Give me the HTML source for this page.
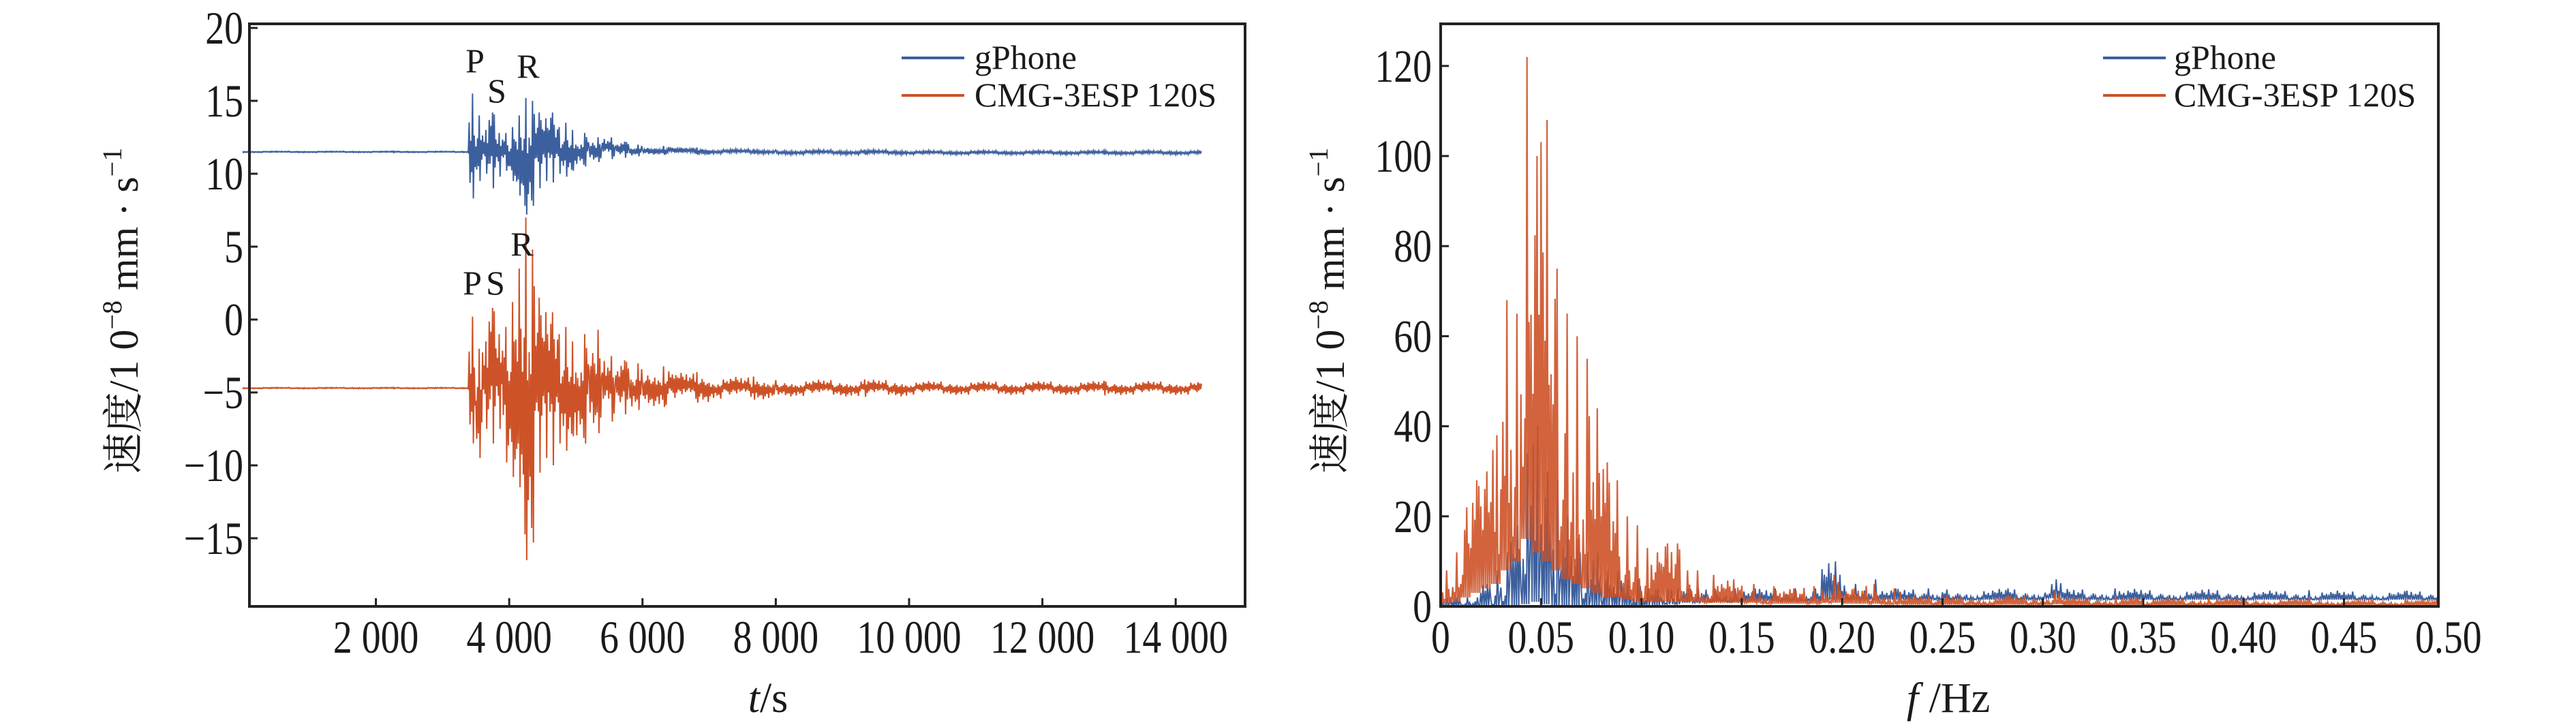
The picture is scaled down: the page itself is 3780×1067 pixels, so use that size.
<!DOCTYPE html>
<html><head><meta charset="utf-8"><style>
html,body{margin:0;padding:0;background:#fff;}
svg text{font-family:"Liberation Serif","Noto Serif CJK SC",serif;fill:#1a1a1a;}
</style></head><body>
<svg id="fig" width="3780" height="1062" viewBox="0 0 3780 1062" xmlns="http://www.w3.org/2000/svg">
<g id="left"></g>
<g id="right"></g>
</svg>
<script>
// ---- left chart data (time bins in s, envelope values 1e-8 mm/s) ----
const tBins = [0,3400,3500,3600,3700,3800,3900,4000,4100,4200,4300,4400,4500,4600,4700,4800,4900,5000,5200,5400,5600,5800,6000,6500,7000,8000,10000,14400];
const gHi = [11.55,15.5,14,13,14.2,12.8,12.8,13.2,14,15.2,15,14.2,13.8,14.2,13.2,13.5,13,12.8,12.5,12.5,12.2,12,11.9,11.8,11.7,11.65,11.6];
const gLo = [11.45,8.3,9.5,10,9,9.8,10.2,9.5,8.5,7.2,7.8,9,9.5,9.4,10,9.8,10.2,10.5,10.8,11,11.1,11.2,11.3,11.3,11.35,11.3,11.3];
const cHi = [-4.65,0.2,-2,-1.5,0.8,-1,-0.5,1.2,3.5,7,4.8,1.5,0.5,0.5,-1,-0.5,-1.5,-1,-0.7,-2.5,-2.8,-3,-3.2,-3.6,-3.9,-4.1,-4.2];
const cLo = [-4.75,-8.5,-9.5,-7.5,-8.5,-7.5,-9.8,-10.8,-11.5,-16.5,-15.3,-10.5,-9.5,-10,-8.5,-9,-8,-8.5,-7.8,-7,-6.5,-6.2,-6,-5.7,-5.5,-5.3,-5.2];
const tTicks = [2000,4000,6000,8000,10000,12000,14000];
const tTickLabels = ["2 000","4 000","6 000","8 000","10 000","12 000","14 000"];
const vTicks = [20,15,10,5,0,-5,-10,-15];
// ---- right chart data (frequency bins Hz, amplitude) ----
const fBins = [0,0.005,0.01,0.015,0.02,0.025,0.03,0.035,0.04,0.045,0.05,0.055,0.06,0.065,0.07,0.075,0.08,0.085,0.09,0.095,0.1,0.105,0.11,0.115,0.12,0.125,0.13,0.14,0.15,0.16,0.17,0.18,0.19,0.2,0.21,0.22,0.23,0.25,0.3,0.31,0.35,0.4,0.45,0.497];
const cmgPeak = [8,12,22,28,30,38,68,65,122,100,108,75,65,60,55,44,32,28,20,18,13,12,14,14,8,8,7,6,5,4.5,4,4.5,7,4,5,4,2.5,2.5,3.5,2.2,2,1.8,1.5];
const cmgFloor = [0.5,1,2,3,4,5,8,10,15,12,10,8,6,5,4,3,2,2,1.5,1.2,1,1,1,1,1,1,0.8,0.8,0.8,0.6,0.6,0.6,0.8,0.6,0.6,0.5,0.4,0.4,0.5,0.3,0.3,0.3,0.3];
const gpPeak = [2,2,2,2,5,8,12,18,34,40,30,28,20,15,12,12,8,8,6,6,4,4,4,4,4,4,4,4,4,4,4,4,10,5,6,4,4,4,6,4,3.8,3.6,3.5];
const gpFloor = [0,0,0,0,0,0,0,0,0.5,1,0.5,0,0,0,0,0,0,0,0,0,0.3,0.3,0.5,0.5,0.8,0.8,1,1,1.2,1.2,1.2,1.2,1.5,1.5,1.5,1.5,1.5,1.5,1.8,1.5,1.5,1.5,1.5];
const fTicks = [0,0.05,0.1,0.15,0.2,0.25,0.3,0.35,0.4,0.45,0.5];
const fTickLabels = ["0","0.05","0.10","0.15","0.20","0.25","0.30","0.35","0.40","0.45","0.50"];
const aTicks = [0,20,40,60,80,100,120];

const NS="http://www.w3.org/2000/svg";
function mk(parent,tag,attrs){const e=document.createElementNS(NS,tag);for(const k in attrs)e.setAttribute(k,attrs[k]);parent.appendChild(e);return e;}
const W=[0.55,0.8,0.35,0.65,0.15,0.6,0.25,0.95,0.45,0.7,0.1,0.5,0.3,0.85,0.2,0.4,0.05,0.65,0.3,0.55,0.15,0.9,0.25,0.35,0.75,0.1,0.45,0.2,0.6,0.3,0.4];
function wave(bins,hi,lo,xs,ys,step,center){
  let pts=[];let k=0;
  for(let i=0;i<hi.length;i++){
    const x0=xs(bins[i]),x1=xs(bins[i+1]);
    const n=Math.max(4,Math.round((x1-x0)/step));
    const jPeak=Math.floor(n/3)*2, jTrough=jPeak+1;
    for(let j=0;j<n;j++){
      const x=x0+(x1-x0)*j/n;let w=W[k%W.length];k++;
      if(j===jPeak||j===jTrough) w=1;
      let v;
      if(center){const c=(hi[i]+lo[i])/2;v=(j%2==0)?c+(hi[i]-c)*w:c-(c-lo[i])*w;}
      else{v=(j%2==0)?lo[i]+(hi[i]-lo[i])*w:lo[i];}
      pts.push(x.toFixed(1)+","+ys(v).toFixed(1));
    }
  }
  return pts.join(" ");
}
function label(g,x,y,str,anchor){
  const t=mk(g,'text',{transform:'translate('+x+','+y+') scale(0.82,1)','font-size':68,'text-anchor':anchor});
  t.textContent=str;return t;
}
const BLUE="#3c5f9d",ORANGE="#cd5227";

// ---------- LEFT ----------
(function(){
const g=document.getElementById('left');
const L=366,R=1827,T=35,B=890;
const xs=t=>356+(t)*(195.6/2000);
const ys=v=>469-v*21.4;
const blue=mk(g,'polyline',{points:wave(tBins,gHi,gLo,xs,ys,1.3,true),fill:'none',stroke:BLUE,'stroke-width':2});


const org=mk(g,'polyline',{points:wave(tBins,cHi,cLo,xs,ys,1.3,true),fill:'none',stroke:ORANGE,'stroke-width':2});


const fr=mk(g,'rect',{x:L,y:T,width:R-L,height:B-T,fill:'none',stroke:'#222','stroke-width':4});


tTicks.forEach((t,i)=>{
  const x=xs(t);
  const tk=mk(g,'line',{x1:x,x2:x,y1:B,y2:B-12,stroke:'#222','stroke-width':3});
  
  
  const tx=label(g,x,958,tTickLabels[i],'middle');
  
  
});
vTicks.forEach(v=>{
  const y=ys(v);
  const tk=mk(g,'line',{x1:L,x2:L+12,y1:y,y2:y,stroke:'#222','stroke-width':3});
  
  
  const tx=label(g,357,y+23,(v<0?'\u2212'+(-v):String(v)),'end');
  
  
});
const labs=[["P",697,106],["S",729,150],["R",775,114],["P",693,432],["S",727,432],["R",766,375]];
labs.forEach(l=>{const t=mk(g,'text',{x:l[1],y:l[2],'font-size':50,'text-anchor':'middle'});t.textContent=l[0];
  
  });
})();

// ---------- RIGHT ----------
(function(){
const g=document.getElementById('right');
const L=2114,R=3578,T=35,B=890;
const xs=f=>2114+f*(1464/0.497);
const ys=v=>890-v*6.61;
const blue=mk(g,'polyline',{points:wave(fBins,gpPeak,gpFloor,xs,ys,1.6,false),fill:'none',stroke:BLUE,'stroke-width':2});


const org=mk(g,'polyline',{points:wave(fBins,cmgPeak,cmgFloor,xs,ys,1.5,false),fill:'none',stroke:ORANGE,'stroke-width':2.2,'stroke-opacity':0.9});


const fr=mk(g,'rect',{x:L,y:T,width:R-L,height:B-T,fill:'none',stroke:'#222','stroke-width':4});


fTicks.forEach((f,i)=>{
  const x=Math.min(xs(f),R);
  const tk=mk(g,'line',{x1:x,x2:x,y1:B,y2:B-12,stroke:'#222','stroke-width':3});
  
  
  const tx=label(g,xs(f)+(i==10?6:0),958,fTickLabels[i],'middle');
  
  
});
aTicks.forEach(v=>{
  const y=ys(v);
  const tk=mk(g,'line',{x1:L,x2:L+12,y1:y,y2:y,stroke:'#222','stroke-width':3});
  
  
  const tx=label(g,2101,y+23,String(v),'end');
  
  
});
})();
</script>
<svg style="position:absolute;left:0;top:0" width="3780" height="1062">
  <g>
    <line x1="1323" y1="85" x2="1415" y2="85" stroke="#3c5f9d" stroke-width="4"/>
    <text x="1430" y="101" font-size="50">gPhone</text>
    <line x1="1323" y1="140" x2="1415" y2="140" stroke="#cd5227" stroke-width="4"/>
    <text x="1430" y="156" font-size="50">CMG-3ESP 120S</text>
  </g>
  <g>
    <line x1="3086" y1="85" x2="3178" y2="85" stroke="#3c5f9d" stroke-width="4"/>
    <text x="3190" y="101" font-size="50">gPhone</text>
    <line x1="3086" y1="140" x2="3178" y2="140" stroke="#cd5227" stroke-width="4"/>
    <text x="3190" y="156" font-size="50">CMG-3ESP 120S</text>
  </g>
  <text transform="translate(202,456) rotate(-90)" text-anchor="middle" font-size="60">速度/1 0<tspan dy="-24" font-size="40">−8</tspan><tspan dy="24"> mm · s</tspan><tspan dy="-24" font-size="40">−1</tspan></text>
  <text x="1127" y="1045" text-anchor="middle" font-size="62"><tspan font-style="italic">t</tspan>/s</text>
  <text transform="translate(1972,456) rotate(-90)" text-anchor="middle" font-size="60">速度/1 0<tspan dy="-24" font-size="40">−8</tspan><tspan dy="24"> mm · s</tspan><tspan dy="-24" font-size="40">−1</tspan></text>
  <text x="2859" y="1045" text-anchor="middle" font-size="62"><tspan font-style="italic">f</tspan> /Hz</text>
</svg>
</body></html>
